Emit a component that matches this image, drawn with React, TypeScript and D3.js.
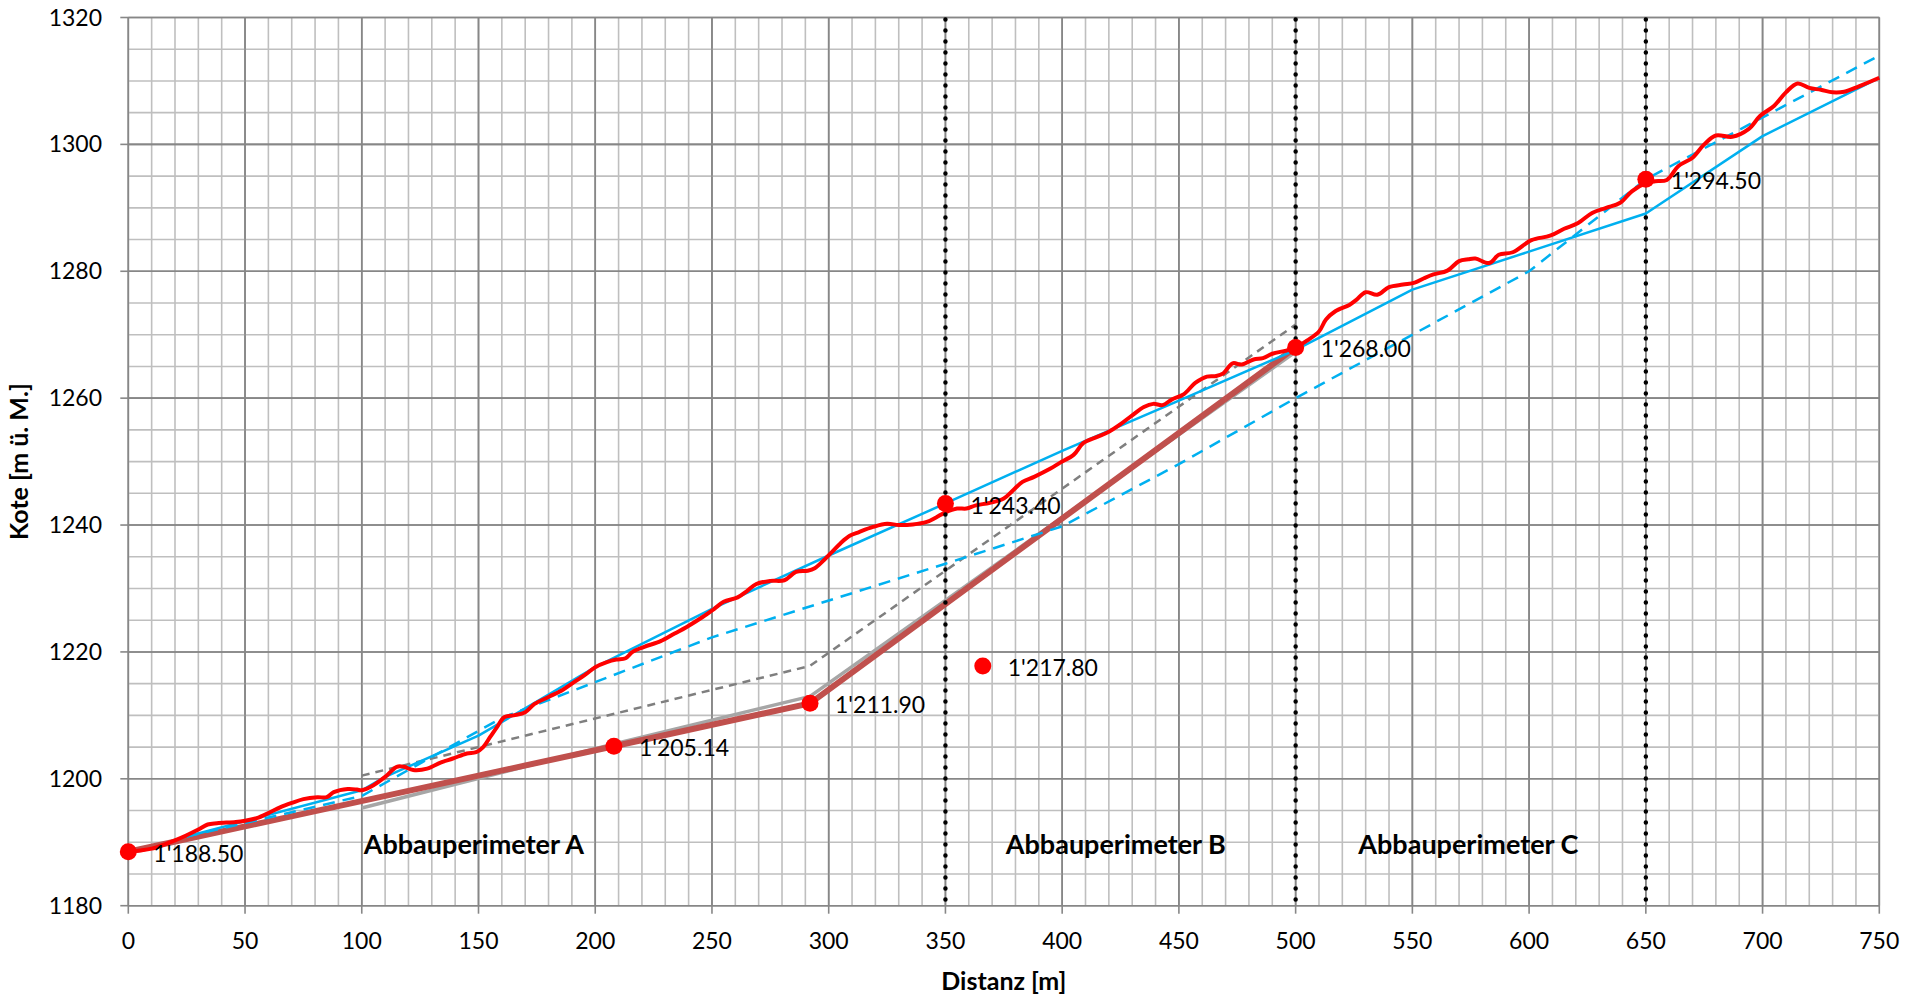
import React, { useRef, useEffect } from "react";
import * as d3 from "d3";

// terrain profile (red)
const terrainX = [0, 5, 10, 15, 20, 25, 30, 34, 38, 46, 50, 55, 60, 65, 70, 75, 81, 85, 88, 94, 98, 100, 105, 110, 115, 118, 122, 128, 134, 139, 145, 149, 152, 155, 158, 161, 165, 170, 174, 180, 186, 190, 196, 200, 205, 209, 213, 216, 221, 228, 234, 239, 246, 251, 255, 261, 265, 269, 275, 281, 286, 291, 294, 298, 301, 305, 309, 313, 319, 325, 330, 336, 342, 346, 350, 355, 359, 363, 369, 375, 379, 383, 388, 395, 399, 405, 409, 415, 420, 425, 430, 435, 439, 443, 447, 452, 457, 462, 466, 469, 473, 477, 482, 486, 490, 496, 500, 505, 510, 513, 517, 523, 526, 530, 535, 540, 546, 551, 555, 559, 565, 570, 574, 577, 583, 587, 593, 601, 609, 615, 621, 627, 633, 639, 644, 650, 654, 659, 664, 670, 675, 680, 687, 694, 699, 705, 710, 715, 720, 725, 730, 735, 741, 750];
const terrainY = [1188.5, 1188.7, 1189.0, 1189.6, 1190.3, 1191.1, 1192.0, 1192.8, 1193.0, 1193.2, 1193.4, 1193.8, 1194.6, 1195.5, 1196.2, 1196.8, 1197.1, 1197.1, 1197.9, 1198.4, 1198.3, 1198.2, 1199.0, 1200.3, 1201.9, 1201.9, 1201.4, 1201.6, 1202.6, 1203.2, 1204.0, 1204.2, 1205.0, 1206.6, 1208.2, 1209.7, 1210.0, 1210.5, 1211.8, 1212.9, 1214.0, 1215.0, 1216.5, 1217.6, 1218.4, 1218.8, 1219.0, 1220.0, 1220.8, 1221.7, 1222.9, 1223.9, 1225.5, 1226.8, 1227.9, 1228.6, 1229.6, 1230.7, 1231.2, 1231.3, 1232.6, 1232.8, 1233.2, 1234.5, 1235.6, 1237.1, 1238.3, 1238.9, 1239.7, 1240.2, 1240.0, 1240.1, 1240.5, 1241.2, 1242.0, 1242.6, 1242.6, 1243.1, 1243.5, 1244.2, 1245.5, 1246.8, 1247.6, 1248.9, 1249.8, 1251.1, 1252.9, 1253.9, 1254.7, 1255.9, 1257.3, 1258.6, 1259.1, 1258.9, 1259.8, 1260.6, 1262.4, 1263.4, 1263.5, 1263.9, 1265.5, 1265.3, 1266.1, 1266.3, 1267.0, 1267.5, 1268.0, 1269.1, 1270.5, 1272.4, 1273.7, 1274.7, 1275.5, 1276.7, 1276.3, 1277.5, 1277.9, 1278.2, 1278.9, 1279.5, 1280.1, 1281.6, 1281.9, 1282.0, 1281.3, 1282.6, 1283.0, 1284.9, 1285.6, 1286.7, 1287.6, 1289.2, 1290.0, 1290.8, 1292.6, 1293.9, 1294.2, 1294.4, 1296.6, 1297.9, 1300.0, 1301.4, 1301.2, 1302.4, 1304.5, 1306.1, 1308.2, 1309.6, 1308.9, 1308.6, 1308.2, 1308.3, 1309.1, 1310.5];

// final shape (blue solid)
const finalX = [25, 100, 110, 150, 200, 250, 300, 350, 400, 450, 500, 550, 650, 700, 750];
const finalY = [1190.9, 1198.2, 1200.3, 1206.8, 1217.6, 1226.8, 1235.2, 1243.4, 1251.7, 1259.6, 1267.6, 1277.1, 1289.1, 1301.3, 1310.5];

// blue dashed
const blueDashX = [25, 100, 160, 250, 350, 400, 450, 500, 600, 650, 750];
const blueDashY = [1190.9, 1197.3, 1209.6, 1222.3, 1233.9, 1239.8, 1249.6, 1260.0, 1280.0, 1294.5, 1314.0];

// grey dashed
const greyDashX = [100, 292, 500];
const greyDashY = [1200.5, 1217.8, 1271.6];

// excavation floor (brown) and light grey variant
const floorX = [0, 208, 292, 500];
const floorY = [1188.5, 1205.14, 1211.9, 1268.0];
const floorGreyX = [100, 208, 292, 500];
const floorGreyY = [1195.4, 1205.5, 1213.0, 1267.3];

// marked points
const pointX = [0, 208, 292, 350, 366, 500, 650];
const pointY = [1188.5, 1205.14, 1211.9, 1243.4, 1217.8, 1268.0, 1294.5];
const pointLabels = ["1'188.50", "1'205.14", "1'211.90", "1'243.40", "1'217.80", "1'268.00", "1'294.50"];

// perimeter borders and names
const borderX = [350, 500, 650];
const areaNames = ["Abbauperimeter A", "Abbauperimeter B", "Abbauperimeter C"];
const areaCenterX = [148, 423, 574];
const areaY = 1189.6;

const xTicks = d3.range(0, 751, 50);
const yTicks = d3.range(1180, 1321, 20);

const FONT = "Lato, 'Open Sans', sans-serif";

const ProfileChart = () => {
	const svgRef = useRef(null);

	useEffect(() => {
		const width = 1922;
		const height = 994;
		const x = d3.scaleLinear().domain([0, 750]).range([128.3, 1879.3]);
		const y = d3.scaleLinear().domain([1180, 1320]).range([905.7, 17.5]);

		const svg = d3.select(svgRef.current);
		svg.selectAll("*").remove();
		svg.attr("width", width).attr("height", height);

		svg.append("rect").attr("width", width).attr("height", height).attr("fill", "white");

		// grid
		const gGrid = svg.append("g");
		d3.range(0, 751, 10).forEach((v) => {
			const major = v % 50 === 0;
			gGrid
				.append("line")
				.attr("x1", x(v))
				.attr("x2", x(v))
				.attr("y1", y(1180))
				.attr("y2", y(1320))
				.attr("stroke", major ? "#878787" : "#bfbfbf")
				.attr("stroke-width", 1.6);
		});
		d3.range(1180, 1321, 5).forEach((v) => {
			const major = v % 20 === 0;
			gGrid
				.append("line")
				.attr("x1", x(0))
				.attr("x2", x(750))
				.attr("y1", y(v))
				.attr("y2", y(v))
				.attr("stroke", major ? "#878787" : "#bfbfbf")
				.attr("stroke-width", 1.6);
		});
		// redraw majors on top so they stay darker
		xTicks.forEach((v) => {
			gGrid.append("line").attr("x1", x(v)).attr("x2", x(v)).attr("y1", y(1180)).attr("y2", y(1320)).attr("stroke", "#878787").attr("stroke-width", 1.6);
		});
		yTicks.forEach((v) => {
			gGrid.append("line").attr("x1", x(0)).attr("x2", x(750)).attr("y1", y(v)).attr("y2", y(v)).attr("stroke", "#878787").attr("stroke-width", 1.6);
		});

		// axes ticks
		const gAxis = svg.append("g").attr("font-family", FONT).attr("font-size", 23).attr("fill", "#000");
		yTicks.forEach((v) => {
			gAxis.append("line").attr("x1", x(0) - 8).attr("x2", x(0)).attr("y1", y(v)).attr("y2", y(v)).attr("stroke", "#878787").attr("stroke-width", 1.6);
			gAxis
				.append("text")
				.attr("x", 102)
				.attr("y", y(v))
				.attr("dy", "0.35em")
				.attr("text-anchor", "end")
				.text(v);
		});
		xTicks.forEach((v) => {
			gAxis.append("line").attr("x1", x(v)).attr("x2", x(v)).attr("y1", y(1180)).attr("y2", y(1180) + 8).attr("stroke", "#878787").attr("stroke-width", 1.6);
			gAxis
				.append("text")
				.attr("x", x(v))
				.attr("y", 941)
				.attr("dy", "0.35em")
				.attr("text-anchor", "middle")
				.text(v);
		});

		// axis titles
		svg.append("text")
			.attr("transform", `translate(19,${(y(1180) + y(1320)) / 2}) rotate(-90)`)
			.attr("text-anchor", "middle")
			.attr("dy", "0.35em")
			.attr("font-family", FONT)
			.attr("font-weight", "bold")
			.attr("font-size", 25)
			.text("Kote [m ü. M.]");
		svg.append("text")
			.attr("x", (x(0) + x(750)) / 2)
			.attr("y", 981)
			.attr("dy", "0.35em")
			.attr("text-anchor", "middle")
			.attr("font-family", FONT)
			.attr("font-weight", "bold")
			.attr("font-size", 25)
			.text("Distanz [m]");

		const line = (xs, ys, curve = d3.curveLinear) =>
			d3
				.line()
				.x((d) => x(d[0]))
				.y((d) => y(d[1]))
				.curve(curve)(xs.map((v, i) => [v, ys[i]]));

		const gLines = svg.append("g").attr("fill", "none").attr("stroke-linejoin", "round");

		gLines.append("path").attr("d", line(floorGreyX, floorGreyY)).attr("stroke", "#a6a6a6").attr("stroke-width", 3.5);
		gLines.append("path").attr("d", line(floorX, floorY)).attr("stroke", "#c0504d").attr("stroke-width", 6);
		gLines.append("path").attr("d", line(greyDashX, greyDashY)).attr("stroke", "#7f7f7f").attr("stroke-width", 2.5).attr("stroke-dasharray", "8 6");
		gLines.append("path").attr("d", line(blueDashX, blueDashY)).attr("stroke", "#00b0f0").attr("stroke-width", 2.5).attr("stroke-dasharray", "12 8");
		gLines.append("path").attr("d", line(finalX, finalY)).attr("stroke", "#00b0f0").attr("stroke-width", 2.5);
		gLines
			.append("path")
			.attr("d", line(terrainX, terrainY, d3.curveCatmullRom))
			.attr("stroke", "#ff0000")
			.attr("stroke-width", 4);

		// perimeter borders
		borderX.forEach((v) => {
			svg.append("line")
				.attr("x1", x(v))
				.attr("x2", x(v))
				.attr("y1", y(1320) + 2)
				.attr("y2", y(1180))
				.attr("stroke", "#000")
				.attr("stroke-width", 4.5)
				.attr("stroke-linecap", "round")
				.attr("stroke-dasharray", "0 11");
		});

		// points + labels
		const gPts = svg.append("g");
		pointX.forEach((v, i) => {
			gPts.append("circle").attr("cx", x(v)).attr("cy", y(pointY[i])).attr("r", 8.5).attr("fill", "#ff0000");
			gPts.append("text")
				.attr("x", x(v) + 25)
				.attr("y", y(pointY[i]) + 2)
				.attr("dy", "0.35em")
				.attr("font-family", FONT)
				.attr("font-size", 23)
				.text(pointLabels[i]);
		});

		// area names
		areaNames.forEach((name, i) => {
			svg.append("text")
				.attr("x", x(areaCenterX[i]))
				.attr("y", y(areaY))
				.attr("dy", "0.35em")
				.attr("text-anchor", "middle")
				.attr("font-family", FONT)
				.attr("font-weight", "bold")
				.attr("font-size", 27)
				.text(name);
		});
	}, []);

	return (
		<svg
			ref={svgRef}
			style={{ position: "absolute", left: 0, top: 0, display: "block" }}
		/>
	);
};

export default function App() {
	return <ProfileChart />;
}
